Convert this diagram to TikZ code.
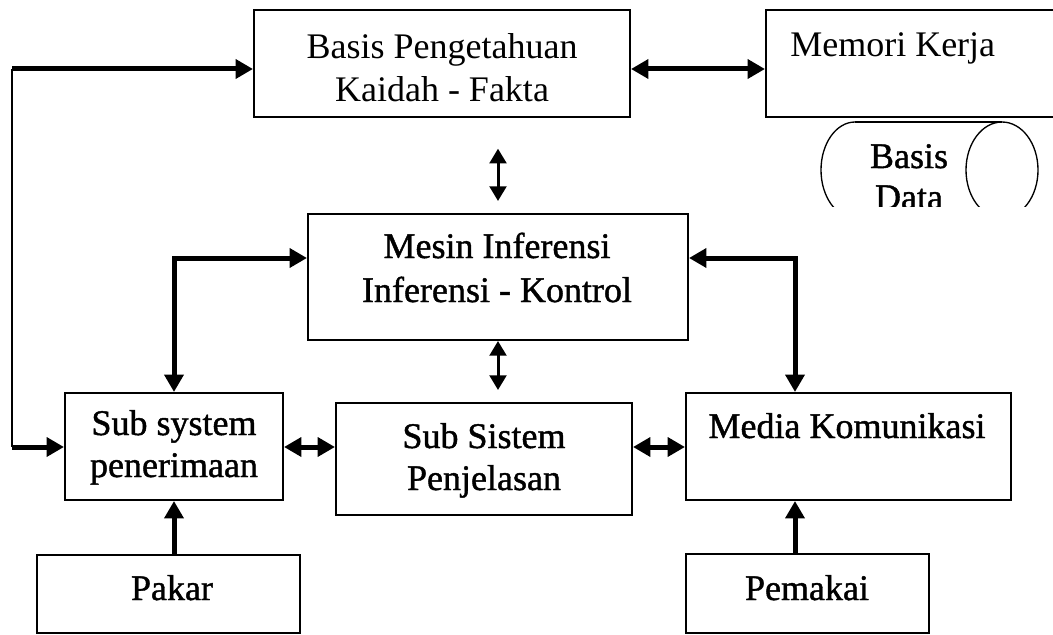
\documentclass[tikz,border=0pt]{standalone}
\usepackage{fontspec}
\setmainfont{Liberation Serif}
\newfontfamily\heavyserif{Liberation Serif}[FakeBold=1.2]
\usetikzlibrary{arrows.meta,fit}

\tikzset{
  box/.style={draw, line width=1.5pt, inner sep=0pt},
  lbl/.style={anchor=base, inner sep=0pt, font=\fontsize{27pt}{32pt}\selectfont},
  hlbl/.style={lbl, font=\fontsize{27pt}{32pt}\heavyserif},
  bigtip/.tip={Triangle[length=13pt,width=14pt]},
  smalltip/.tip={Triangle[length=11pt,width=12.5pt]},
  flow/.style={line width=3.75pt, line join=miter, -bigtip},
  bflow/.style={line width=3.75pt, line join=miter, bigtip-bigtip},
  vflow/.style={line width=2.25pt, smalltip-smalltip},
  feed/.style={line width=1.5pt},
  drum/.style={line width=1pt}
}

\begin{document}
\begin{tikzpicture}[x=0.75pt, y=-0.75pt]
\useasboundingbox (0,0) rectangle (1053,635);
\clip (0,0) rectangle (1053,635);

% blocks
\node[box, fit={(254,10) (630,117)}] (basis) {};
\node[box, fit={(766,10) (1080,117)}] (memori) {};
\node[box, fit={(308,214) (688,340)}] (mesin) {};
\node[box, fit={(65,393) (283,500)}] (sub) {};
\node[box, fit={(336,403) (632,515)}] (penj) {};
\node[box, fit={(686,393) (1011,500)}] (media) {};
\node[box, fit={(37,555) (300,633)}] (pakar) {};
\node[box, fit={(686,554) (929,633)}] (pemakai) {};

% labels
\node[lbl] (basisA) at (442,59) {Basis Pengetahuan};
\node[lbl] (basisB) at (442,102) {Kaidah - Fakta};
\node[lbl, anchor=base west] (memoriT) at (790,57) {Memori Kerja};
\node[hlbl] (mesinA) at (497,258) {Mesin Inferensi};
\node[hlbl] (mesinB) at (497,302) {Inferensi - Kontrol};
\node[hlbl] (subA) at (174,435) {Sub system};
\node[hlbl] (subB) at (174,477) {penerimaan};
\node[hlbl] (penjA) at (484,448) {Sub Sistem};
\node[hlbl] (penjB) at (484,490) {Penjelasan};
\node[hlbl] (mediaT) at (847,438) {Media Komunikasi};
\node[hlbl] (pakarT) at (172,600) {Pakar};
\node[hlbl] (pemakaiT) at (807,600) {Pemakai};

% database drum, cut off below
\begin{scope}
  \clip (800,110) rectangle (1053,206);
  \draw[drum] (855,122) -- (1002,122);
  \draw[drum] (855,218) -- (1002,218);
  \draw[drum] (855,122) arc[start angle=270, end angle=90, x radius=34, y radius=48];
  \draw[drum] (1002,170) ellipse [x radius=36, y radius=48];
  \node[hlbl] (dbA) at (909,168) {Basis};
  \node[hlbl] (dbB) at (909,209) {Data};
\end{scope}

% routing points
\coordinate (lt) at (12,69);
\coordinate (yb) at (0,447);
\coordinate (yl) at (0,258);
\coordinate (xr) at (795,0);
\coordinate (xm) at (498,0);

% connectors
\draw[feed] (lt) -- (lt |- yb);
\draw[flow] (lt) -- (lt -| basis.west);
\draw[flow] (lt |- yb) -- (yb -| sub.west);
\draw[bflow] (basis.east |- lt) -- (memori.west |- lt);
\draw[vflow, shorten <=23pt, shorten >=9pt] (xm |- basis.south) -- (xm |- mesin.north);
\draw[vflow, shorten >=9pt] (xm |- mesin.south) -- (xm |- penj.north);
\draw[bflow] (yl -| mesin.west) -| (sub.north);
\draw[bflow] (yl -| mesin.east) -| (xr |- media.north);
\draw[bflow] (yb -| sub.east) -- (yb -| penj.west);
\draw[bflow] (yb -| penj.east) -- (yb -| media.west);
\draw[flow] (sub.south |- pakar.north) -- (sub.south);
\draw[flow] (xr |- pemakai.north) -- (xr |- media.south);
\end{tikzpicture}
\end{document}
